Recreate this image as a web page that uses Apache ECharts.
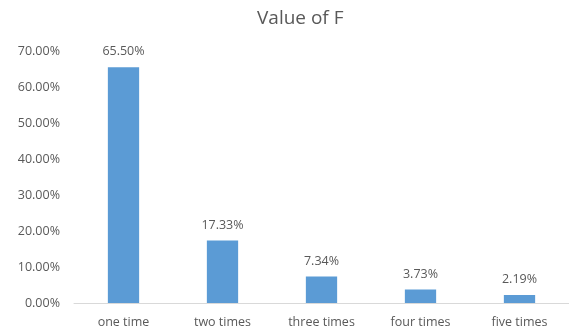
<!DOCTYPE html>
<html>
<head>
<meta charset="utf-8">
<script src="https://cdn.jsdelivr.net/npm/echarts@6/dist/echarts.min.js"></script>
<style>
  html, body { margin: 0; padding: 0; background: #fff; }
  #chart { width: 569px; height: 334px; }
</style>
</head>
<body>
<div id="chart"></div>
<script>
const categories = ['one time', 'two times', 'three times', 'four times', 'five times'];
const values = [65.50, 17.33, 7.34, 3.73, 2.19];

const chart = echarts.init(document.getElementById('chart'));
const textColor = '#595959';
const fontFamily = '"Open Sans", "Liberation Sans", sans-serif';

chart.setOption({
  animation: false,
  title: {
    text: 'Value of F',
    left: 252,
    top: 4,
    textStyle: { color: textColor, fontSize: 19, fontWeight: 'normal', fontFamily: fontFamily },
  },
  grid: { left: 74, right: -3, top: 51, bottom: 31 },
  xAxis: {
    type: 'category',
    data: categories,
    axisTick: { show: false },
    axisLine: { lineStyle: { color: '#d9d9d9', width: 1 } },
    axisLabel: { color: textColor, fontSize: 12.5, fontFamily: fontFamily, margin: 13 },
  },
  yAxis: {
    type: 'value',
    min: 0,
    max: 70,
    interval: 10,
    splitLine: { show: false },
    axisLine: { show: false },
    axisTick: { show: false },
    axisLabel: {
      color: textColor,
      fontSize: 12.5,
      fontFamily: fontFamily,
      margin: 14,
      formatter: (v) => v.toFixed(2) + '%',
    },
  },
  series: [
    {
      type: 'bar',
      data: values,
      barWidth: '31.6%',
      itemStyle: { color: '#5b9bd5' },
      label: {
        show: true,
        position: 'top',
        distance: 9,
        color: textColor,
        fontSize: 12.5,
        fontFamily: fontFamily,
        formatter: (p) => p.value.toFixed(2) + '%',
      },
    },
  ],
});
</script>
</body>
</html>
